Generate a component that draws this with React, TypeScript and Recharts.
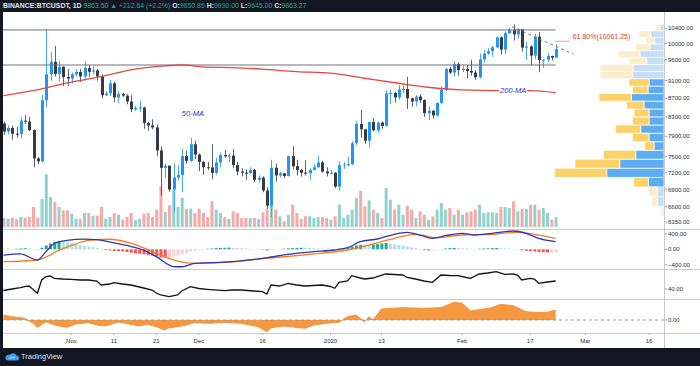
import React from "react";
import {
  ComposedChart,
  Bar,
  Line,
  Area,
  XAxis,
  YAxis,
  ReferenceLine,
  ReferenceArea,
  ReferenceDot,
  Cell,
} from "recharts";

// ---------------- data (day index 0 = 2019-10-16) ----------------
const opens = [
  8160, 7995, 8070, 7950, 7945, 8220, 8200, 8025, 7465, 7410, 8660, 9250, 9550, 9255, 9430, 9185, 9150, 9250, 9305, 9200,
  9400, 9310, 9340, 9200, 8770, 8810, 9040, 8720, 8800, 8760, 8630, 8460, 8490, 8500, 8170, 8120, 8080, 7620, 7290, 7330,
  6900, 7110, 7160, 7510, 7420, 7740, 7540, 7400, 7300, 7295, 7195, 7390, 7530, 7505, 7520, 7340, 7220, 7200, 7190, 7250,
  7070, 7110, 6880, 6620, 7290, 7150, 7190, 7140, 7510, 7320, 7250, 7200, 7190, 7250, 7300, 7390, 7220, 7190, 7200, 6950,
  7340, 7350, 7355, 7760, 8150, 8040, 7810, 8190, 8020, 8180, 8110, 8810, 8820, 8720, 8900, 8910, 8700, 8630, 8740, 8660,
  8380, 8430, 8330, 8600, 8890, 9380, 9290, 9500, 9350, 9380, 9330, 9290, 9180, 9610, 9750, 9810, 9910, 10160, 9850, 10270,
  10360, 10240, 10370, 9900, 9930, 9700, 10180, 9590, 9600, 9690, 9650.85,
];
const highs = [
  8200, 8120, 8115, 8090, 8300, 8335, 8300, 8040, 7495, 8780, 10370, 9800, 9940, 9570, 9440, 9380, 9290, 9375, 9380, 9560,
  9470, 9440, 9375, 9250, 8860, 9120, 9080, 8870, 8825, 8790, 8770, 8530, 8650, 8520, 8200, 8250, 8140, 7700, 7360, 7330,
  7370, 7340, 7650, 7620, 7870, 7810, 7560, 7420, 7400, 7740, 7480, 7580, 7630, 7560, 7650, 7400, 7280, 7260, 7300, 7270,
  7150, 7130, 6940, 7440, 7370, 7220, 7190, 7520, 7700, 7440, 7270, 7430, 7280, 7360, 7520, 7420, 7300, 7250, 7210, 7410,
  7400, 7500, 7800, 8210, 8450, 8050, 8200, 8280, 8200, 8200, 8880, 8900, 8850, 9000, 9000, 9190, 8720, 8770, 8790, 8680,
  8520, 8440, 8610, 8980, 9400, 9430, 9570, 9530, 9460, 9470, 9600, 9350, 9750, 9850, 9880, 9950, 10190, 10190, 10320, 10420,
  10500, 10390, 10380, 10050, 9960, 10250, 10300, 9620, 9760, 9700, 9990,
];
const lows = [
  7930, 7940, 7830, 7870, 7860, 8150, 8000, 7300, 7360, 7390, 8500, 9100, 9200, 9080, 8980, 8980, 9050, 9200, 9070, 9100,
  9190, 9250, 9100, 8700, 8750, 8750, 8620, 8600, 8730, 8570, 8400, 8430, 8400, 8050, 8010, 8040, 7510, 6790, 7100, 6860,
  6515, 7060, 6850, 7370, 7400, 7460, 7230, 7160, 7250, 7080, 7170, 7300, 7480, 7400, 7280, 7150, 7130, 7070, 7180, 7030,
  7020, 6850, 6560, 6435, 7040, 7110, 7100, 7130, 7260, 7150, 7130, 7150, 7070, 7240, 7290, 7200, 7130, 7170, 6920, 6870,
  7270, 7310, 7340, 7720, 7870, 7750, 7670, 8000, 7970, 8050, 8100, 8570, 8610, 8670, 8810, 8470, 8520, 8530, 8600, 8300,
  8230, 8260, 8300, 8570, 8860, 9260, 9200, 9220, 9300, 9150, 9220, 9120, 9150, 9530, 9720, 9670, 9890, 9730, 9740, 10250,
  10080, 10130, 9800, 9600, 9460, 9610, 9300, 9400, 9550, 9580, 9645,
];
const closes = [
  7995, 8070, 7950, 7945, 8220, 8200, 8025, 7465, 7410, 8660, 9250, 9550, 9255, 9430, 9185, 9150, 9250, 9305, 9200, 9400,
  9310, 9340, 9200, 8770, 8810, 9040, 8720, 8800, 8760, 8630, 8460, 8490, 8500, 8170, 8120, 8080, 7620, 7290, 7330, 6900,
  7110, 7160, 7510, 7420, 7740, 7540, 7400, 7300, 7295, 7195, 7390, 7530, 7505, 7520, 7340, 7220, 7200, 7190, 7250, 7070,
  7110, 6880, 6620, 7290, 7150, 7190, 7140, 7510, 7320, 7250, 7200, 7190, 7250, 7300, 7390, 7220, 7190, 7200, 6950, 7340,
  7350, 7355, 7760, 8150, 8040, 7810, 8190, 8020, 8180, 8110, 8810, 8820, 8720, 8900, 8910, 8700, 8630, 8740, 8660, 8380,
  8430, 8330, 8600, 8890, 9380, 9290, 9500, 9350, 9380, 9330, 9290, 9180, 9610, 9750, 9810, 9910, 10160, 9850, 10270, 10360,
  10240, 10370, 9900, 9930, 9700, 10180, 9590, 9600, 9690, 9650, 9863.27,
];
// volume (thousand BTC)
const volumes = [
  9.3, 8.3, 9.3, 7.7, 10, 9.3, 10, 20, 9.3, 28, 52.7, 30, 25, 20, 16.7, 16.7, 13.3, 8.3, 8.3, 14,
  14, 11.3, 11.3, 20, 8.3, 10, 14, 12.3, 7.3, 10, 14, 6.7, 8.3, 13.3, 14, 10, 17.3, 40.7, 15, 21.7,
  37.3, 20, 29.3, 18.3, 18.3, 14, 18.3, 14, 10, 26, 17.3, 14, 10, 8.3, 15.7, 14, 9, 9, 9, 9,
  8, 14.7, 17.3, 22.3, 17.3, 10.7, 5.7, 12.3, 22.3, 14, 8, 10.7, 10.7, 9, 10, 10, 9, 7.3, 10.7, 22.3,
  9, 12.3, 17.3, 29, 36.3, 20.7, 26.7, 17.3, 14, 9, 39, 27.3, 17.3, 22.3, 12.3, 21.3, 17.3, 9, 15.7, 12.3,
  7.3, 10.7, 17.3, 24, 17.3, 19, 12.3, 17.3, 12.3, 14.7, 15.7, 17.3, 22.3, 14, 14.7, 14.7, 14, 20, 20, 19,
  25.7, 15.7, 18, 18, 22.3, 22.3, 17.3, 19, 14, 7.3, 10,
];

// 200-day moving average
const ma200Idx = [0, 9, 15, 23, 30, 38, 42, 48, 54, 61, 69, 77, 85, 93, 100, 108, 116, 124, 130];
const ma200Val = [8759, 8910, 9048, 9194, 9353, 9449, 9471, 9418, 9410, 9370, 9313, 9275, 9157, 9041, 8949, 8888, 8872, 8872, 8827];

// MACD
const macdIdx = [0, 4, 8, 10, 12, 15, 19, 22, 25, 29, 33, 36, 40, 42, 45, 49, 54, 61, 67, 73, 78, 81, 84, 88, 92, 95, 98, 101, 104, 108, 111, 115, 120, 123, 126, 130];
const macdVal = [-150, -120, -276, -60, 150, 230, 262, 250, 190, 100, -20, -190, -445, -450, -365, -345, -320, -232, -129, -62, -18, 41, 196, 266, 387, 439, 369, 284, 351, 413, 369, 413, 472, 413, 284, 196];
const signalIdx = [0, 8, 13, 16, 20, 25, 30, 36, 41, 45, 52, 62, 72, 81, 86, 92, 97, 102, 108, 115, 121, 125, 130];
const signalVal = [-320, -276, -30, 100, 230, 260, 160, -103, -302, -361, -335, -232, -129, -18, 111, 284, 387, 299, 369, 387, 439, 387, 284];
const histVal = [
  8, 12, 10, 15, 22, 28, 25, 5, -8, 40, 100, 150, 190, 215, 210, 185, 160, 130, 110, 90,
  75, 55, 40, 15, -20, -30, -45, -50, -55, -70, -90, -100, -115, -130, -150, -165, -180, -210, -215, -200,
  -185, -160, -120, -90, -60, -40, -20, 5, 15, 20, 30, 35, 40, 45, 38, 30, 25, 20, 15, 10,
  5, -10, -30, -20, -5, 5, 15, 25, 30, 35, 40, 38, 35, 30, 25, 20, 15, 10, 5, 15,
  30, 50, 70, 100, 120, 115, 110, 120, 135, 150, 165, 150, 130, 110, 90, 70, 50, 35, 15, -20,
  -30, -25, -15, 5, 20, 30, 35, 30, 25, 20, 15, 10, 15, 20, 25, 30, 35, 30, 25, 20,
  10, -5, -20, -40, -50, -55, -70, -75, -80, -80, -75,
];

// oscillator (middle pane)
const rsiIdx = [0, 2, 4, 5, 6, 7, 8, 9, 10, 11, 12, 14, 16, 18, 20, 22, 23, 25, 26, 28, 30, 33, 35, 36, 37, 39, 41, 42, 44, 46, 48, 52, 54, 56, 59, 61, 62, 63, 65, 67, 69, 71, 73, 75, 77, 78, 79, 81, 82, 84, 85, 87, 88, 90, 92, 94, 95, 97, 99, 101, 103, 105, 107, 109, 110, 112, 114, 116, 118, 120, 121, 122, 124, 125, 126, 128, 130];
const rsiVal = [37, 40, 42.6, 44.6, 46, 39, 31.4, 58, 64.6, 66, 61.4, 60, 59.4, 58, 58, 56, 48, 50, 52.6, 50, 48, 42, 38, 32, 28, 24.6, 28, 36, 44.6, 41, 39.4, 36.6, 38, 38, 36, 34.6, 30, 48, 46, 51.4, 48, 46, 47, 48, 45, 41.4, 53.4, 56, 66.6, 62, 60, 62, 64.6, 70, 69, 68, 63, 60, 56, 53.4, 68, 67, 66.6, 63, 61.4, 70, 72, 74.6, 69.4, 70, 68, 58, 61.4, 60, 51.4, 54, 56];

// flow oscillator (bottom pane)
const flowIdx = [0, 2, 5, 7, 8, 10, 12, 15, 17, 20, 22, 24, 27, 30, 32, 34, 36, 38, 39, 41, 43, 45, 49, 52, 56, 60, 62, 63, 66, 71, 73, 76, 79, 81, 83, 85, 86, 87, 89, 94, 99, 103, 106, 108, 110, 115, 117, 120, 123, 125, 128, 130];
const flowVal = [0.5, 0.33, 0.17, -0.33, -0.73, -0.17, -0.5, -0.73, -0.4, -0.27, -0.5, -0.6, -0.2, -0.43, -0.6, -0.43, -0.67, -1.0, -0.77, -0.67, -0.5, -0.27, -0.33, -0.23, -0.33, -0.67, -1.17, -0.77, -0.6, -0.83, -0.5, -0.33, -0.23, 0.33, 0.5, -0.17, 0.33, 0, 1.1, 1.23, 1.17, 1.23, 1.77, 1.67, 0.9, 1.23, 1.57, 1.43, 0.83, 0.77, 0.77, 1.0];

// volume profile (visible range), 24 rows
const vpEdges = [6435, 6604, 6774, 6943, 7113, 7282, 7452, 7621, 7791, 7960, 8129, 8299, 8468, 8638, 8807, 8977, 9146, 9316, 9485, 9655, 9824, 9994, 10163, 10333, 10500];
const vpUp = [1.3, 6.6, 6.6, 15.6, 57.3, 44.3, 28.3, 10, 15, 23.3, 15, 15, 20, 32.6, 16, 15, 31.6, 30.6, 17.3, 24, 14, 9.3, 13.3, 4];
const vpDown = [2, 5.7, 8.4, 15, 52, 44.7, 32.3, 9.3, 16.6, 25, 16.6, 15, 17.3, 32.4, 15.6, 20, 32.4, 33.4, 17.7, 22, 14.3, 9, 11.7, 4.3];
const vpInValueArea = [0, 0, 0, 1, 1, 1, 1, 1, 1, 1, 1, 1, 1, 1, 1, 1, 0, 0, 0, 0, 0, 0, 0, 0];
const vpMaxScale = 661;

// drawings
const resistanceHigh = 10355;
const supportLevel = 9471;
const lineEndIdx = 130;
const trendFrom = { x: 119.7, y: 10443 };
const trendTo = { x: 134.2, y: 9733 };
const fibLevel = 10061.25;
const fibFromIdx = 129.9;
const fibToIdx = 133.3;

// axis ticks
const priceTicks = [10400, 10000, 9600, 9100, 8700, 8300, 7900, 7500, 7200, 6900, 6600, 6350];
const xTickIdx = [16, 26, 36, 46, 61, 77, 89, 108, 124, 137, 152];
const xTickLabels = ["Nov", "11", "21", "Dec", "16", "2020", "13", "Feb", "17", "Mar", "16"];

// ---------------- styling ----------------
const FONT = '"Liberation Sans", Arial, sans-serif';
const X_DOMAIN: [number, number] = [-0.1, 155.5];
const PRICE_DOMAIN: [number, number] = [6238, 10812];
const MARGIN = { top: 0, right: 3, bottom: 0, left: 3 };
const AXIS_W = 33;
const UP = "#2196f3";
const DOWN = "#363a45";
const UP_WICK = "#4aa6f2";
const DOWN_WICK = "#5d606b";
const GRID = "#c9cbd1";
const TICK = { fontSize: 6, fill: "#2a2e39", fontFamily: FONT };
const TICK_LINE = { stroke: "#9598a1" };

const fmt2 = (v: number) => (v < 0 ? "\u2212" + Math.abs(v).toFixed(2) : v.toFixed(2));

const Candle = (props: any) => {
  const { x, y, width, height, payload } = props;
  if (!payload) return null;
  const { o, h, l, c } = payload;
  const lh = Math.log(h);
  const span = lh - Math.log(l) || 1;
  const yOf = (p: number) => y + (height * (lh - Math.log(p))) / span;
  const up = c >= o;
  const cx = Math.round(x + width / 2) + 0.5;
  const yTop = yOf(Math.max(o, c));
  const yBot = yOf(Math.min(o, c));
  return (
    <g>
      <line x1={cx} x2={cx} y1={y} y2={y + height} stroke={up ? UP_WICK : DOWN_WICK} strokeWidth={1} />
      <rect x={cx - 1.5} y={yTop} width={3} height={Math.max(1, yBot - yTop)} fill={up ? UP : DOWN} />
    </g>
  );
};

const MaLabel = ({ cx, cy, text }: { cx: number; cy: number; text: string }) => (
  <g>
    <rect x={cx - 14} y={cy - 4.5} width={28} height={9} fill="#ffffff" />
    <text x={cx} y={cy} dy="0.35em" textAnchor="middle" fontSize={7.5} fontStyle="italic" fill="#3036c0" fontFamily={FONT}>
      {text}
    </text>
  </g>
);

// fib level: short line with its label just after the line's right end
const FibShape = (p: any) => {
  const { x1, y1, x2, y2 } = p;
  if (![x1, y1, x2, y2].every((v) => typeof v === "number" && isFinite(v))) return null;
  return (
    <g>
      <line x1={x1} y1={y1} x2={x2} y2={y2} stroke="#f2a3a3" strokeWidth={1} />
      <text x={x2 + 3} y={y2 - 2} textAnchor="start" fontSize={7} fill="#e53935" fontFamily={FONT}>
        61.80%({fibLevel.toFixed(2)})
      </text>
    </g>
  );
};

const histColor = (i: number) => {
  const v = histVal[i];
  const p = i > 0 ? histVal[i - 1] : 0;
  if (v >= 0) return v >= p ? "#26a69a" : "#b2dfdb";
  return v < p ? "#ff5252" : "#ffcdd2";
};

const pick = (idx: number[], val: number[]) => {
  const m = new Map<number, number>();
  idx.forEach((k, j) => m.set(k, val[j]));
  return m;
};

export default function App() {
  const maMap = pick(ma200Idx, ma200Val);
  const macdMap = pick(macdIdx, macdVal);
  const sigMap = pick(signalIdx, signalVal);
  const rsiMap = pick(rsiIdx, rsiVal);
  const flowMap = pick(flowIdx, flowVal);

  const mainRows = opens.map((o, i) => ({
    i,
    o,
    h: highs[i],
    l: lows[i],
    c: closes[i],
    range: [lows[i], highs[i]],
    vol: volumes[i],
    ma: maMap.get(i),
  }));
  const macdRows = histVal.map((h, i) => ({ i, hist: h, macd: macdMap.get(i), signal: sigMap.get(i) }));
  const rsiRows = opens.map((_, i) => ({ i, rsi: rsiMap.get(i) }));
  const flowRows = opens.map((_, i) => ({ i, flow: flowMap.get(i) }));
  const vpRows = vpUp.map((u, k) => ({ vx: u + vpDown[k], vy: vpEdges[k] }));

  const pane = (top: number): React.CSSProperties => ({ position: "absolute", left: 0, top });
  const hLine = (top: number): React.CSSProperties => ({
    position: "absolute",
    left: 3,
    top,
    width: 697,
    height: 1,
    background: GRID,
  });

  return (
    <div
      style={{
        position: "absolute",
        left: 0,
        top: 0,
        width: 700,
        height: 366,
        background: "#131722",
        overflow: "hidden",
        fontFamily: FONT,
      }}
    >
      {/* white chart area */}
      <div style={{ position: "absolute", left: 3, top: 12, width: 697, height: 336, background: "#ffffff" }} />

      {/* header */}
      <div
        style={{
          position: "absolute",
          left: 3,
          top: 2,
          fontSize: 6.9,
          lineHeight: "8px",
          color: "#e0e3eb",
          whiteSpace: "nowrap",
          fontWeight: 700,
        }}
      >
        <span>BINANCE:BTCUSDT, 1D</span>{" "}
        <span style={{ color: "#26a69a", fontWeight: 400 }}>9863.50 ▲ +212.64 (+2.2%)</span>{" "}
        <span>O:</span><span style={{ color: "#26a69a", fontWeight: 400 }}>9650.85</span>{" "}
        <span>H:</span><span style={{ color: "#26a69a", fontWeight: 400 }}>9990.00</span>{" "}
        <span>L:</span><span style={{ color: "#26a69a", fontWeight: 400 }}>9645.00</span>{" "}
        <span>C:</span><span style={{ color: "#26a69a", fontWeight: 400 }}>9863.27</span>
      </div>

      {/* volume profile (visible range) */}
      <div style={pane(13)}>
        <ComposedChart width={700} height={216} data={vpRows} margin={{ top: 0, right: 36, bottom: 0, left: 3 }}>
          <XAxis xAxisId="vp" dataKey="vx" type="number" domain={[0, vpMaxScale]} reversed allowDataOverflow hide />
          <YAxis yAxisId="vpy" dataKey="vy" type="number" scale="log" domain={PRICE_DOMAIN} allowDataOverflow hide />
          {vpUp.map((u, k) => (
            <ReferenceArea
              key={"vu" + k}
              xAxisId="vp"
              yAxisId="vpy"
              x1={0}
              x2={u}
              y1={vpEdges[k]}
              y2={vpEdges[k + 1]}
              fill={vpInValueArea[k] ? "#5eadf2" : "#c6def8"}
              fillOpacity={1}
              stroke="#ffffff"
              strokeWidth={0.7}
              ifOverflow="visible"
            />
          ))}
          {vpDown.map((d, k) => (
            <ReferenceArea
              key={"vd" + k}
              xAxisId="vp"
              yAxisId="vpy"
              x1={vpUp[k]}
              x2={vpUp[k] + d}
              y1={vpEdges[k]}
              y2={vpEdges[k + 1]}
              fill={vpInValueArea[k] ? "#fbd168" : "#fdedcf"}
              fillOpacity={1}
              stroke="#ffffff"
              strokeWidth={0.7}
              ifOverflow="visible"
            />
          ))}
        </ComposedChart>
      </div>

      {/* main price pane */}
      <div style={pane(13)}>
        <ComposedChart width={700} height={216} data={mainRows} margin={MARGIN}>
          <XAxis xAxisId="x" dataKey="i" type="number" domain={X_DOMAIN} allowDataOverflow hide />
          <XAxis xAxisId="xv" dataKey="i" type="number" domain={X_DOMAIN} allowDataOverflow hide />
          <YAxis
            yAxisId="p"
            orientation="right"
            width={AXIS_W}
            type="number"
            scale="log"
            domain={PRICE_DOMAIN}
            allowDataOverflow
            ticks={priceTicks}
            interval={0}
            tickFormatter={fmt2}
            axisLine={false}
            tickLine={TICK_LINE}
            tickSize={3}
            tickMargin={1}
            tick={TICK}
          />
          <YAxis yAxisId="v" hide domain={[-2, 214]} allowDataOverflow />

          <Bar xAxisId="xv" yAxisId="v" dataKey="vol" barSize={3} isAnimationActive={false}>
            {mainRows.map((r) => (
              <Cell key={r.i} fill={r.c >= r.o ? "#26a69a" : "#ef5350"} fillOpacity={0.5} />
            ))}
          </Bar>

          <ReferenceLine
            xAxisId="x"
            yAxisId="p"
            segment={[
              { x: X_DOMAIN[0], y: resistanceHigh },
              { x: lineEndIdx, y: resistanceHigh },
            ]}
            stroke="#6f727c"
            strokeWidth={1}
            ifOverflow="visible"
          />
          <ReferenceLine
            xAxisId="x"
            yAxisId="p"
            segment={[
              { x: X_DOMAIN[0], y: supportLevel },
              { x: lineEndIdx, y: supportLevel },
            ]}
            stroke="#6f727c"
            strokeWidth={1}
            ifOverflow="visible"
          />

          <Line
            xAxisId="x"
            yAxisId="p"
            dataKey="ma"
            type="monotone"
            connectNulls
            dot={false}
            stroke="#e8473f"
            strokeWidth={1.3}
            isAnimationActive={false}
          />

          <Bar xAxisId="x" yAxisId="p" dataKey="range" barSize={3} isAnimationActive={false} shape={(p: any) => <Candle {...p} />} />

          <ReferenceLine
            xAxisId="x"
            yAxisId="p"
            segment={[trendFrom, trendTo]}
            stroke="#787b86"
            strokeWidth={1}
            strokeDasharray="3 3"
            ifOverflow="visible"
          />
          <ReferenceLine
            xAxisId="x"
            yAxisId="p"
            segment={[
              { x: fibFromIdx, y: fibLevel },
              { x: fibToIdx, y: fibLevel },
            ]}
            ifOverflow="visible"
            shape={(p: any) => <FibShape {...p} />}
          />
          <ReferenceDot
            xAxisId="x"
            yAxisId="p"
            x={120}
            y={8872}
            r={0}
            ifOverflow="visible"
            shape={(p: any) => <MaLabel cx={p.cx} cy={p.cy} text="200-MA" />}
          />
          <ReferenceDot
            xAxisId="x"
            yAxisId="p"
            x={44.6}
            y={8382}
            r={0}
            ifOverflow="visible"
            shape={(p: any) => <MaLabel cx={p.cx} cy={p.cy} text="50-MA" />}
          />
        </ComposedChart>
      </div>

      {/* MACD pane */}
      <div style={pane(229)}>
        <ComposedChart width={700} height={40} data={macdRows} margin={MARGIN}>
          <XAxis dataKey="i" type="number" domain={X_DOMAIN} allowDataOverflow hide />
          <YAxis
            orientation="right"
            width={AXIS_W}
            domain={[-508, 524]}
            allowDataOverflow
            ticks={[400, 0, -400]}
            interval={0}
            tickFormatter={fmt2}
            axisLine={false}
            tickLine={TICK_LINE}
            tickSize={3}
            tickMargin={1}
            tick={TICK}
          />
          <Bar dataKey="hist" barSize={3} isAnimationActive={false}>
            {macdRows.map((r) => (
              <Cell key={r.i} fill={histColor(r.i)} />
            ))}
          </Bar>
          <Line dataKey="signal" type="monotone" connectNulls dot={false} stroke="#f57c22" strokeWidth={1.3} isAnimationActive={false} />
          <Line dataKey="macd" type="monotone" connectNulls dot={false} stroke="#3034ad" strokeWidth={1.3} isAnimationActive={false} />
        </ComposedChart>
      </div>

      {/* oscillator pane */}
      <div style={pane(269)}>
        <ComposedChart width={700} height={30} data={rsiRows} margin={MARGIN}>
          <XAxis dataKey="i" type="number" domain={X_DOMAIN} allowDataOverflow hide />
          <YAxis
            orientation="right"
            width={AXIS_W}
            domain={[20, 80]}
            allowDataOverflow
            ticks={[40]}
            interval={0}
            tickFormatter={fmt2}
            axisLine={false}
            tickLine={TICK_LINE}
            tickSize={3}
            tickMargin={1}
            tick={TICK}
          />
          <Line dataKey="rsi" type="linear" connectNulls dot={false} stroke="#131313" strokeWidth={1.3} isAnimationActive={false} />
        </ComposedChart>
      </div>

      {/* flow pane + time axis */}
      <div style={pane(299)}>
        <ComposedChart width={700} height={49} data={flowRows} margin={MARGIN}>
          <XAxis
            dataKey="i"
            type="number"
            domain={X_DOMAIN}
            allowDataOverflow
            ticks={xTickIdx}
            interval={0}
            tickFormatter={(v: number) => xTickLabels[xTickIdx.indexOf(v)] ?? ""}
            height={15}
            axisLine={false}
            tickLine={TICK_LINE}
            tickSize={2}
            tickMargin={4}
            tick={TICK}
          />
          <YAxis
            orientation="right"
            width={AXIS_W}
            domain={[-1.3, 2.1]}
            allowDataOverflow
            ticks={[0]}
            interval={0}
            tickFormatter={fmt2}
            axisLine={false}
            tickLine={TICK_LINE}
            tickSize={3}
            tickMargin={1}
            tick={TICK}
          />
          <Area
            dataKey="flow"
            type="linear"
            connectNulls
            baseValue={0}
            stroke="#f4943a"
            strokeWidth={1}
            fill="#f5983f"
            fillOpacity={1}
            isAnimationActive={false}
          />
          <ReferenceLine y={0} stroke="#9598a1" strokeDasharray="3 3" strokeWidth={1} />
        </ComposedChart>
      </div>

      {/* pane separators and price-scale border */}
      <div style={hLine(229)} />
      <div style={hLine(269)} />
      <div style={hLine(299)} />
      <div style={hLine(333)} />
      <div style={{ position: "absolute", left: 664, top: 12, width: 1, height: 336, background: GRID }} />

      {/* TradingView logo */}
      <div style={{ position: "absolute", left: 5, top: 352, display: "flex", alignItems: "center", gap: 2 }}>
        <svg width={14} height={9} viewBox="0 0 14 9">
          <path d="M2.5 8.5 H11.5 A2.5 2.5 0 0 0 11.5 3.5 A4 4 0 0 0 4.5 3 A2.8 2.8 0 0 0 2.5 8.5 Z" fill="#3c9cf0" />
          <path d="M4.5 7 L6.5 5 L8 6.3 L10 4.5" stroke="#ffffff" strokeWidth={0.8} fill="none" />
        </svg>
        <span style={{ color: "#e0e3eb", fontSize: 7.5, lineHeight: "9px" }}>TradingView</span>
      </div>
    </div>
  );
}
